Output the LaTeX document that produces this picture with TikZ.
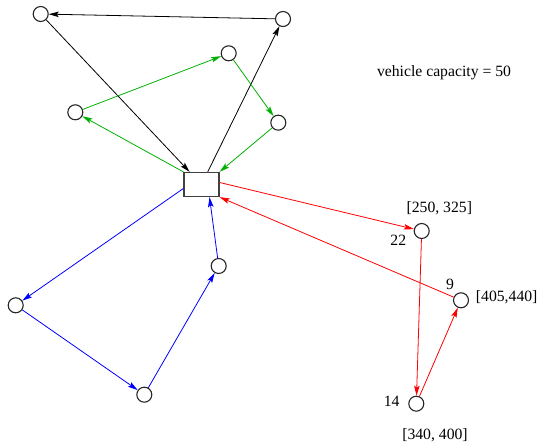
\documentclass[tikz,border=0pt]{standalone}
\usepackage{fontspec}
\setmainfont{Liberation Serif}
\usepackage{xcolor}
\definecolor{routeg}{HTML}{00B000}
\definecolor{router}{HTML}{FF0000}
\definecolor{routeb}{HTML}{0000FF}
\usepackage{tikz}
\usetikzlibrary{positioning,arrows.meta}
\tikzset{
  cust/.style={draw=black!85, circle, line width=1.1pt, minimum size=15pt, inner sep=0pt},
  depotbox/.style={draw=black!75, line width=1.3pt, minimum width=35pt, minimum height=24pt, inner sep=0pt},
  txt/.style={font=\fontsize{15.7}{18}\selectfont, inner sep=0pt},
  route/.style={-{Stealth[length=10pt,width=5.5pt,inset=2pt]}, line width=0.8pt},
}

\begin{document}
\begin{tikzpicture}[x=1pt, y=-1pt]
  \useasboundingbox (0,0) rectangle (539,443);
  \node[depotbox] (depot) at (201.5,184.5) {};
  % black route
  \node[cust] (a) at (40.7,14) {};
  \node[cust] (b) at (283,19) {};
  % green route
  \node[cust] (g1) at (75.3,112.3) {};
  \node[cust] (g2) at (228.7,53.3) {};
  \node[cust] (g3) at (278.3,122.7) {};
  % blue route
  \node[cust] (l1) at (15.7,305.3) {};
  \node[cust] (l2) at (144.3,394.7) {};
  \node[cust] (l3) at (218.7,266) {};
  % red route
  \node[cust] (r1) at (421.7,231) {};
  \node[cust] (r2) at (416.3,403.7) {};
  \node[cust] (r3) at (461,300.3) {};
  % labels
  \node[txt] (cap) at (444,73) {vehicle capacity = 50};
  \node[txt] (r1pos) at (439.3,208.3) {[250, 325]};
  \node[txt] (r1dem) at (398.3,240.7) {22};
  \node[txt] (r3dem) at (450,284.3) {9};
  \node[txt] (r3pos) at (506.7,297.3) {[405,440]};
  \node[txt] (r2dem) at (391.7,401) {14};
  \node[txt] (r2pos) at (435,435) {[340, 400]};

  \draw[route, black] (depot) -- (b);
  \draw[route, black] (b) -- (a);
  \draw[route, black] (a) -- (depot);

  \draw[route, routeg] (depot.north west) -- (g1);
  \draw[route, routeg] (g1) -- (g2);
  \draw[route, routeg] (g2) -- (g3);
  \draw[route, routeg] (g3) -- (depot.north east);

  \draw[route, routeb] ([yshift=-4pt]depot.west) -- (l1);
  \draw[route, routeb] (l1) -- (l2);
  \draw[route, routeb] (l2) -- (l3);
  \draw[route, routeb] (l3) -- ([xshift=8pt]depot.south);

  \draw[route, router] ([yshift=2pt]depot.east) -- (r1);
  \draw[route, router] (r1) -- (r2);
  \draw[route, router] (r2) -- (r3);
  \draw[route, router] (r3) -- (depot.south east);
\end{tikzpicture}
\end{document}
